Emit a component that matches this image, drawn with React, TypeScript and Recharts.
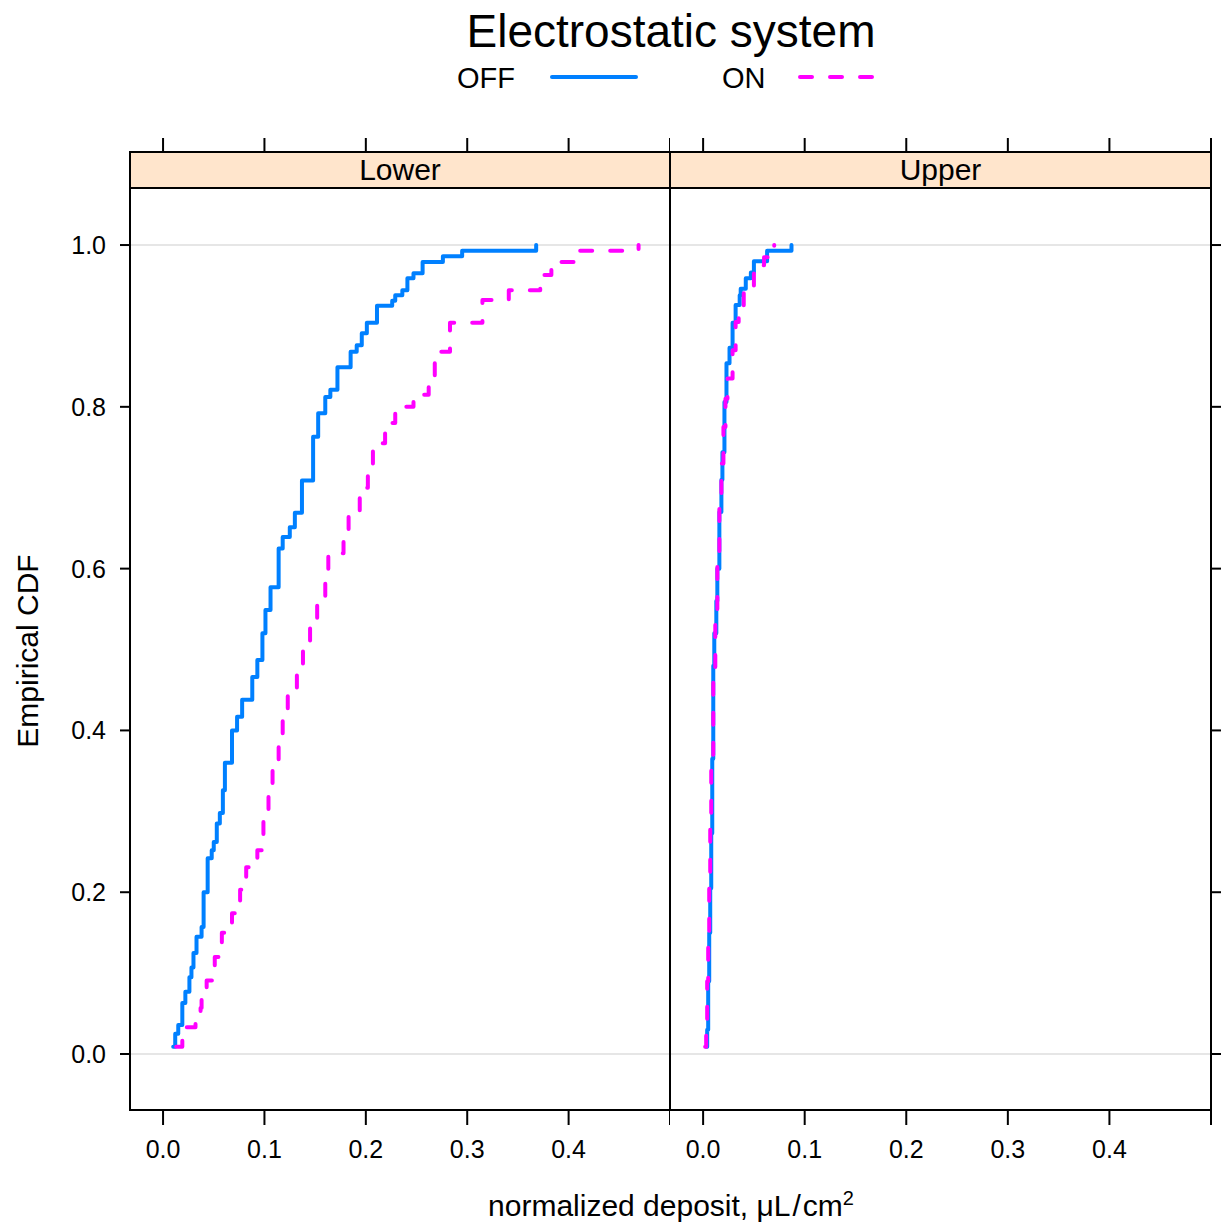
import React from 'react';
import { LineChart, Line, XAxis, YAxis, ReferenceLine } from 'recharts';

// panels, groups and ticks
const panels = ['Lower', 'Upper'];
const groups = ['OFF', 'ON'];
const xTicks = [0, 0.1, 0.2, 0.3, 0.4, 0.5];
const yTicks = [0, 0.2, 0.4, 0.6, 0.8, 1.0];

// ECDF step points: x = deposit, y = cumulative fraction
const lowerOff = [
  { x: 0.010, y: 0.009 }, { x: 0.012, y: 0.025 }, { x: 0.015, y: 0.036 }, { x: 0.019, y: 0.063 },
  { x: 0.022, y: 0.077 }, { x: 0.026, y: 0.095 }, { x: 0.028, y: 0.107 }, { x: 0.030, y: 0.125 },
  { x: 0.033, y: 0.145 }, { x: 0.038, y: 0.157 }, { x: 0.040, y: 0.200 }, { x: 0.044, y: 0.242 },
  { x: 0.048, y: 0.252 }, { x: 0.050, y: 0.262 }, { x: 0.053, y: 0.285 }, { x: 0.056, y: 0.298 },
  { x: 0.059, y: 0.326 }, { x: 0.061, y: 0.360 }, { x: 0.068, y: 0.400 }, { x: 0.073, y: 0.417 },
  { x: 0.078, y: 0.438 }, { x: 0.088, y: 0.466 }, { x: 0.093, y: 0.487 }, { x: 0.098, y: 0.520 },
  { x: 0.101, y: 0.549 }, { x: 0.106, y: 0.577 }, { x: 0.114, y: 0.625 }, { x: 0.118, y: 0.639 },
  { x: 0.125, y: 0.651 }, { x: 0.130, y: 0.669 }, { x: 0.137, y: 0.709 }, { x: 0.148, y: 0.763 },
  { x: 0.153, y: 0.792 }, { x: 0.160, y: 0.812 }, { x: 0.165, y: 0.821 }, { x: 0.172, y: 0.849 },
  { x: 0.185, y: 0.868 }, { x: 0.191, y: 0.876 }, { x: 0.196, y: 0.891 }, { x: 0.201, y: 0.904 },
  { x: 0.211, y: 0.925 }, { x: 0.226, y: 0.931 }, { x: 0.229, y: 0.938 }, { x: 0.236, y: 0.944 },
  { x: 0.241, y: 0.959 }, { x: 0.247, y: 0.965 }, { x: 0.256, y: 0.979 }, { x: 0.276, y: 0.986 },
  { x: 0.295, y: 0.993 }, { x: 0.368, y: 1.000 },
];

const lowerOn = [
  { x: 0.013, y: 0.009 }, { x: 0.019, y: 0.020 }, { x: 0.022, y: 0.033 }, { x: 0.032, y: 0.045 },
  { x: 0.037, y: 0.057 }, { x: 0.038, y: 0.067 }, { x: 0.043, y: 0.091 }, { x: 0.051, y: 0.120 },
  { x: 0.058, y: 0.150 }, { x: 0.068, y: 0.174 }, { x: 0.076, y: 0.203 }, { x: 0.082, y: 0.231 },
  { x: 0.093, y: 0.252 }, { x: 0.099, y: 0.289 }, { x: 0.104, y: 0.320 }, { x: 0.108, y: 0.355 },
  { x: 0.114, y: 0.386 }, { x: 0.118, y: 0.413 }, { x: 0.123, y: 0.450 }, { x: 0.132, y: 0.478 },
  { x: 0.138, y: 0.503 }, { x: 0.145, y: 0.533 }, { x: 0.152, y: 0.561 }, { x: 0.160, y: 0.590 },
  { x: 0.163, y: 0.619 }, { x: 0.178, y: 0.644 }, { x: 0.183, y: 0.669 }, { x: 0.194, y: 0.700 },
  { x: 0.202, y: 0.726 }, { x: 0.207, y: 0.755 }, { x: 0.219, y: 0.780 }, { x: 0.229, y: 0.800 },
  { x: 0.247, y: 0.815 }, { x: 0.262, y: 0.837 }, { x: 0.268, y: 0.868 }, { x: 0.283, y: 0.904 },
  { x: 0.315, y: 0.932 }, { x: 0.341, y: 0.944 }, { x: 0.372, y: 0.963 }, { x: 0.383, y: 0.979 },
  { x: 0.410, y: 0.993 }, { x: 0.469, y: 1.000 },
];

const upperOff = [
  { x: 0.003, y: 0.009 }, { x: 0.004, y: 0.030 }, { x: 0.005, y: 0.090 }, { x: 0.006, y: 0.150 },
  { x: 0.007, y: 0.205 }, { x: 0.008, y: 0.273 }, { x: 0.009, y: 0.365 }, { x: 0.010, y: 0.480 },
  { x: 0.011, y: 0.520 }, { x: 0.013, y: 0.560 }, { x: 0.014, y: 0.600 }, { x: 0.016, y: 0.670 },
  { x: 0.018, y: 0.710 }, { x: 0.019, y: 0.744 }, { x: 0.021, y: 0.806 }, { x: 0.023, y: 0.854 },
  { x: 0.026, y: 0.873 }, { x: 0.029, y: 0.904 }, { x: 0.032, y: 0.926 }, { x: 0.036, y: 0.938 },
  { x: 0.037, y: 0.946 }, { x: 0.042, y: 0.959 }, { x: 0.047, y: 0.966 }, { x: 0.050, y: 0.980 },
  { x: 0.063, y: 0.993 }, { x: 0.087, y: 1.000 },
];

const upperOn = [
  { x: 0.002, y: 0.009 }, { x: 0.003, y: 0.040 }, { x: 0.004, y: 0.090 }, { x: 0.005, y: 0.150 },
  { x: 0.006, y: 0.210 }, { x: 0.007, y: 0.280 }, { x: 0.008, y: 0.370 }, { x: 0.010, y: 0.470 },
  { x: 0.012, y: 0.550 }, { x: 0.014, y: 0.620 }, { x: 0.016, y: 0.680 }, { x: 0.018, y: 0.730 },
  { x: 0.020, y: 0.775 }, { x: 0.022, y: 0.810 }, { x: 0.024, y: 0.835 }, { x: 0.029, y: 0.870 },
  { x: 0.032, y: 0.905 }, { x: 0.035, y: 0.920 }, { x: 0.040, y: 0.948 }, { x: 0.050, y: 0.975 },
  { x: 0.060, y: 0.985 }, { x: 0.068, y: 0.993 }, { x: 0.070, y: 1.000 },
];

const FONT = '"Liberation Sans", Arial, Helvetica, sans-serif';
const BLUE = '#0080ff';
const PINK = '#ff00ff';
const DASH = '12 18';
const X_DOMAIN: [number, number] = [-0.0326, 0.5];
const Y_DOMAIN: [number, number] = [-0.0692, 1.0705];

const fmtX = (v: number) => (v >= 0.5 ? '' : v.toFixed(1));
const fmtY = (v: number) => v.toFixed(1);
const blank = () => '';
const tickStyle = { fontSize: 25, fill: '#000', fontFamily: FONT };
const tickLine = { stroke: '#000', strokeWidth: 2 };

type Pt = { x: number; y: number };

function Panel({ off, on, left, width, isLeft }: { off: Pt[]; on: Pt[]; left: number; width: number; isLeft: boolean }) {
  return (
    <div style={{ position: 'absolute', left, top: 0 }}>
      <LineChart width={width} height={1227} margin={{ top: 138, right: 0, bottom: 0, left: 0 }}>
        <XAxis
          xAxisId="b"
          dataKey="x"
          type="number"
          domain={X_DOMAIN}
          ticks={xTicks}
          interval={0}
          tickFormatter={fmtX}
          axisLine={false}
          tickLine={tickLine}
          tickSize={15}
          tickMargin={15}
          height={117}
          tick={tickStyle}
          allowDataOverflow
        />
        <XAxis
          xAxisId="t"
          orientation="top"
          dataKey="x"
          type="number"
          domain={X_DOMAIN}
          ticks={xTicks}
          interval={0}
          tickFormatter={blank}
          axisLine={false}
          tickLine={tickLine}
          tickSize={50}
          height={50}
          allowDataOverflow
        />
        <YAxis
          yAxisId="y"
          type="number"
          domain={Y_DOMAIN}
          ticks={yTicks}
          interval={0}
          orientation={isLeft ? 'left' : 'right'}
          width={isLeft ? 130 : 11}
          tickSize={10}
          tickMargin={14}
          tickFormatter={isLeft ? fmtY : blank}
          axisLine={false}
          tickLine={tickLine}
          tick={tickStyle}
          allowDataOverflow
        />
        <ReferenceLine xAxisId="b" yAxisId="y" y={0} stroke="#e6e6e6" strokeWidth={2} />
        <ReferenceLine xAxisId="b" yAxisId="y" y={1} stroke="#e6e6e6" strokeWidth={2} />
        <Line
          xAxisId="b"
          yAxisId="y"
          data={off}
          dataKey="y"
          name={groups[0]}
          type="stepAfter"
          stroke={BLUE}
          strokeWidth={4}
          strokeLinecap="round"
          strokeLinejoin="round"
          dot={false}
          activeDot={false}
          isAnimationActive={false}
        />
        <Line
          xAxisId="b"
          yAxisId="y"
          data={on}
          dataKey="y"
          name={groups[1]}
          type="stepAfter"
          stroke={PINK}
          strokeWidth={4}
          strokeDasharray={DASH}
          strokeLinecap="round"
          strokeLinejoin="round"
          dot={false}
          activeDot={false}
          isAnimationActive={false}
        />
      </LineChart>
    </div>
  );
}

const abs = (s: React.CSSProperties): React.CSSProperties => ({ position: 'absolute', ...s });

export default function App() {
  return (
    <div style={{ position: 'absolute', left: 0, top: 0, width: 1222, height: 1227, background: '#fff', fontFamily: FONT, color: '#000', overflow: 'hidden' }}>
      <Panel off={lowerOff} on={lowerOn} left={0} width={670} isLeft />
      <Panel off={upperOff} on={upperOn} left={670} width={552} isLeft={false} />

      {/* panel frames and strips */}
      {panels.map((p, i) => {
        const x = i === 0 ? 129 : 669;
        const w = i === 0 ? 542 : 543;
        return (
          <React.Fragment key={p}>
            <div style={abs({ left: x, top: 151, width: w, height: 960, border: '2px solid #000', boxSizing: 'border-box' })} />
            <div
              style={abs({
                left: x, top: 151, width: w, height: 38, border: '2px solid #000', boxSizing: 'border-box',
                background: '#ffe5cc', textAlign: 'center', fontSize: 30, lineHeight: '34px',
              })}
            >
              {p}
            </div>
          </React.Fragment>
        );
      })}

      {/* title and legend */}
      <div style={abs({ left: 0, width: 1342, top: 0, height: 62, textAlign: 'center', fontSize: 46, lineHeight: '62px' })}>
        Electrostatic system
      </div>
      <div style={abs({ left: 457, top: 60, height: 36, fontSize: 29, lineHeight: '36px' })}>{groups[0]}</div>
      <svg style={abs({ left: 540, top: 67, overflow: 'visible' })} width={100} height={20}>
        <line x1={12} y1={10} x2={96} y2={10} stroke={BLUE} strokeWidth={4} strokeLinecap="round" />
      </svg>
      <div style={abs({ left: 722, top: 60, height: 36, fontSize: 29, lineHeight: '36px' })}>{groups[1]}</div>
      <svg style={abs({ left: 790, top: 67, overflow: 'visible' })} width={100} height={20}>
        <line x1={10} y1={10} x2={86} y2={10} stroke={PINK} strokeWidth={4} strokeDasharray={DASH} strokeLinecap="round" />
      </svg>

      {/* axis titles */}
      <div style={abs({ left: 0, width: 1342, top: 1186, height: 40, textAlign: 'center', fontSize: 30, lineHeight: '40px' })}>
        normalized deposit, μL<span style={{ padding: '0 2px' }}>/</span>cm<sup style={{ fontSize: 20, verticalAlign: 'top', lineHeight: '24px' }}>2</sup>
      </div>
      <div
        style={abs({
          left: 28 - 200, top: 651 - 20, width: 400, height: 40, textAlign: 'center', fontSize: 30, lineHeight: '40px',
          transform: 'rotate(-90deg)',
        })}
      >
        Empirical CDF
      </div>
    </div>
  );
}
